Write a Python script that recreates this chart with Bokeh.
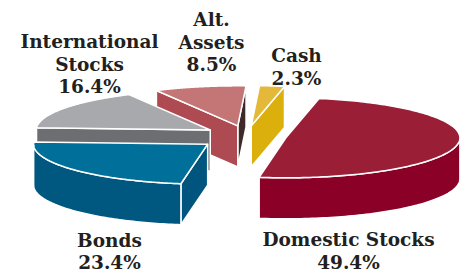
import numpy as np
from bokeh.plotting import figure
from bokeh.models import Range1d, ColumnDataSource
from bokeh.core.properties import value
from bokeh.embed import file_html
from bokeh.resources import INLINE

# ---- data ----
categories = ["Domestic Stocks", "Bonds", "International Stocks", "Alt. Assets", "Cash"]
shares = [49.4, 23.4, 16.4, 8.5, 2.3]
name_lines = [["Domestic Stocks"], ["Bonds"], ["International", "Stocks"], ["Alt.", "Assets"], ["Cash"]]

# ---- style / layout ----
top_colors = ["#9B1E37", "#00709A", "#A7A9AC", "#C47575", "#E4B93A"]
wall_colors = ["#8A0027", "#00577F", "#6D6E71", "#AE4A51", "#DCB00C"]
side_a_colors = ["#8A0027", "#00577F", "#6D6E71", "#3E2A2A", "#DCB00C"]
side_b_colors = ["#8A0027", "#00557E", "#6D6E71", "#AE4A51", "#DCB00C"]
explode = [40, 50, 43, 40, 40]
label_pos = [(348, 245), (109, 245.5), (89, 47), (211, 25), (296, 61)]
LINE_H = 22.5
TEXT_SHIFT = -6
RX, RY, DEPTH = 174.0, 40.0, 41.0
CX, CY, Q = 246.0, 135.5, 0.26
START = 79.0  # degrees, slices run clockwise from here

xs, ys, fills = [], [], []

def rim(ax, ay, t, dy=0.0):
    return ax + RX * np.cos(t), ay - RY * np.sin(t) + dy

slices = []
end = np.radians(START)
for i, s in enumerate(shares):
    span = np.radians(360.0 * s / sum(shares))
    a, b = end - span, end
    end = a
    mid = (a + b) / 2
    ax = CX + explode[i] * np.cos(mid)
    ay = CY - explode[i] * Q * np.sin(mid)
    slices.append((i, a, b, mid, ax, ay))

# painter's order: back slices first
slices.sort(key=lambda z: -np.sin(z[3]))

for i, a, b, mid, ax, ay in slices:
    # radial side faces
    for edge, normal, col in ((a, a - np.pi / 2, side_a_colors[i]), (b, b + np.pi / 2, side_b_colors[i])):
        if np.sin(normal) < 0:
            rx, ry = rim(ax, ay, edge)
            xs.append([ax, rx, rx, ax])
            ys.append([ay, ry, ry + DEPTH, ay + DEPTH])
            fills.append(col)
    # curved front walls
    for k in (-2, -1, 0, 1):
        lo = max(a, -np.pi + 2 * np.pi * k)
        hi = min(b, 2 * np.pi * k)
        if hi - lo > 1e-4:
            t = np.linspace(lo, hi, 80)
            px, py = rim(ax, ay, t)
            xs.append(list(px) + list(px[::-1]))
            ys.append(list(py) + list((py + DEPTH)[::-1]))
            fills.append(wall_colors[i])
    # top face
    t = np.linspace(a, b, 160)
    px, py = rim(ax, ay, t)
    xs.append([ax] + list(px))
    ys.append([ay] + list(py))
    fills.append(top_colors[i])

p = figure(width=466, height=273, output_backend="svg", toolbar_location=None,
           x_range=Range1d(0, 466), y_range=Range1d(273, 0), min_border=0)
p.axis.visible = False
p.grid.visible = False
p.outline_line_color = None
p.background_fill_color = "white"

src = ColumnDataSource(dict(xs=xs, ys=ys, fill=fills))
p.patches("xs", "ys", source=src, fill_color="fill", line_color="white",
          line_width=1.5, line_join="round")

tx, ty, tt = [], [], []
for i, lines in enumerate(name_lines):
    lines = lines + [f"{shares[i]:.1f}%"]
    x0, y0 = label_pos[i]
    for j, ln in enumerate(lines):
        tx.append(x0)
        ty.append(y0 + j * LINE_H)
        tt.append(ln)

p.text(x=tx, y=ty, text=tt, text_font=value("DejaVu Serif"), text_font_style="bold",
       text_font_size="18.5px", text_align="center", text_baseline="alphabetic",
       text_color="#231F20", y_offset=TEXT_SHIFT)

open("out.html", "w").write(file_html(p, INLINE))
